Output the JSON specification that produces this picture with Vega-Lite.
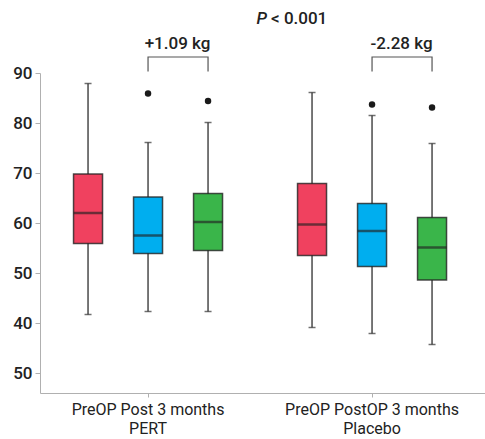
{
  "$schema": "https://vega.github.io/schema/vega-lite/v6.json",
  "autosize": "none",
  "width": 445,
  "height": 320,
  "padding": {"left": 40, "top": 73, "right": 0, "bottom": 46},
  "config": {
    "view": {"stroke": null},
    "font": "Roboto",
    "axis": {"grid": false, "domainColor": "#b0b0b0", "tickColor": "#b0b0b0", "labelColor": "#222", "labelFont": "Roboto", "titleFont": "Roboto"}
  },
  "datasets": {
    "boxes": [
      {"group": "PERT", "time": "PreOP", "lower": 41.7, "q1": 55.9, "median": 62.0, "q3": 69.8, "upper": 87.9, "outlier": null},
      {"group": "PERT", "time": "PostOP", "lower": 42.3, "q1": 53.9, "median": 57.5, "q3": 65.2, "upper": 76.1, "outlier": 85.9},
      {"group": "PERT", "time": "3 months", "lower": 42.3, "q1": 54.5, "median": 60.2, "q3": 65.9, "upper": 80.1, "outlier": 84.4},
      {"group": "Placebo", "time": "PreOP", "lower": 39.1, "q1": 53.5, "median": 59.7, "q3": 67.9, "upper": 86.1, "outlier": null},
      {"group": "Placebo", "time": "PostOP", "lower": 37.9, "q1": 51.3, "median": 58.4, "q3": 63.9, "upper": 81.5, "outlier": 83.7},
      {"group": "Placebo", "time": "3 months", "lower": 35.7, "q1": 48.6, "median": 55.1, "q3": 61.1, "upper": 75.9, "outlier": 83.1}
    ],
    "brackets": [
      {"group": "PERT", "time": "PostOP", "y": 90.3, "o": 1},
      {"group": "PERT", "time": "PostOP", "y": 93.2, "o": 2},
      {"group": "PERT", "time": "3 months", "y": 93.2, "o": 3},
      {"group": "PERT", "time": "3 months", "y": 90.3, "o": 4},
      {"group": "Placebo", "time": "PostOP", "y": 90.3, "o": 1},
      {"group": "Placebo", "time": "PostOP", "y": 93.2, "o": 2},
      {"group": "Placebo", "time": "3 months", "y": 93.2, "o": 3},
      {"group": "Placebo", "time": "3 months", "y": 90.3, "o": 4}
    ],
    "diffs": [
      {"group": "PERT", "label": "+1.09 kg", "y": 94.9},
      {"group": "Placebo", "label": "-2.28 kg", "y": 94.9}
    ],
    "ptext": [
      {"group": "PERT", "y": 99.8}
    ]
  },
  "encoding": {
    "x": {
      "field": "group", "type": "nominal",
      "scale": {"domain": ["PERT", "Placebo"], "paddingInner": 0.1964, "paddingOuter": 0.0915, "align": 0.44},
      "axis": {"title": null, "labelAngle": 0, "tickSize": 4, "labelPadding": 4, "labelFontSize": 16, "labelLineHeight": 19, "labelBaseline": "top",
        "labelExpr": "datum.value == 'PERT' ? ['PreOP Post 3 months', 'PERT'] : ['PreOP PostOP 3 months', 'Placebo']"}
    }
  },
  "layer": [
    {
      "data": {"name": "boxes"},
      "mark": {"type": "rule", "color": "#4a4a4a", "strokeWidth": 1.5},
      "encoding": {
        "xOffset": {"field": "time", "type": "nominal", "scale": {"domain": ["PreOP", "PostOP", "3 months"], "paddingInner": 0, "paddingOuter": 0}},
        "y": {"field": "lower", "type": "quantitative",
          "scale": {"domain": [26, 90], "nice": false, "zero": false},
          "axis": {"title": null, "values": [30, 40, 50, 60, 70, 80, 90], "tickSize": 5, "labelFontSize": 17, "labelFontWeight": 500, "labelPadding": 3,
            "labelExpr": "datum.value == 30 ? '50' : datum.label"}},
        "y2": {"field": "upper"}
      }
    },
    {
      "data": {"name": "boxes"},
      "mark": {"type": "tick", "color": "#333", "size": 7, "thickness": 1.5, "orient": "horizontal"},
      "encoding": {
        "xOffset": {"field": "time", "type": "nominal"},
        "y": {"field": "lower", "type": "quantitative"}
      }
    },
    {
      "data": {"name": "boxes"},
      "mark": {"type": "tick", "color": "#333", "size": 7, "thickness": 1.5, "orient": "horizontal"},
      "encoding": {
        "xOffset": {"field": "time", "type": "nominal"},
        "y": {"field": "upper", "type": "quantitative"}
      }
    },
    {
      "data": {"name": "boxes"},
      "mark": {"type": "bar", "size": 29, "stroke": "#222", "strokeWidth": 1.5, "strokeOpacity": 0.8, "opacity": 1},
      "encoding": {
        "xOffset": {"field": "time", "type": "nominal"},
        "y": {"field": "q1", "type": "quantitative"},
        "y2": {"field": "q3"},
        "color": {"field": "time", "type": "nominal", "legend": null,
          "scale": {"domain": ["PreOP", "PostOP", "3 months"], "range": ["#F0415F", "#00AEEF", "#3AB54A"]}}
      }
    },
    {
      "data": {"name": "boxes"},
      "mark": {"type": "tick", "color": "#222", "opacity": 0.65, "size": 29, "thickness": 2.5, "orient": "horizontal"},
      "encoding": {
        "xOffset": {"field": "time", "type": "nominal"},
        "y": {"field": "median", "type": "quantitative"}
      }
    },
    {
      "data": {"name": "boxes"},
      "transform": [{"filter": "datum.outlier != null"}],
      "mark": {"type": "point", "filled": true, "color": "#1a1a1a", "opacity": 1, "size": 42},
      "encoding": {
        "xOffset": {"field": "time", "type": "nominal"},
        "y": {"field": "outlier", "type": "quantitative"}
      }
    },
    {
      "data": {"name": "brackets"},
      "mark": {"type": "line", "color": "#555", "strokeWidth": 1.2, "clip": false},
      "encoding": {
        "xOffset": {"field": "time", "type": "nominal"},
        "y": {"field": "y", "type": "quantitative"},
        "detail": {"field": "group"},
        "order": {"field": "o"}
      }
    },
    {
      "data": {"name": "diffs"},
      "mark": {"type": "text", "dx": 29.5, "fontSize": 17, "fontWeight": 500, "color": "#222", "baseline": "alphabetic"},
      "encoding": {
        "y": {"field": "y", "type": "quantitative"},
        "text": {"field": "label"}
      }
    },
    {
      "data": {"name": "ptext"},
      "mark": {"type": "text", "dx": 119, "align": "right", "fontSize": 17, "fontWeight": 500, "fontStyle": "italic", "color": "#222", "baseline": "alphabetic", "text": "P"},
      "encoding": {
        "y": {"field": "y", "type": "quantitative"}
      }
    },
    {
      "data": {"name": "ptext"},
      "mark": {"type": "text", "dx": 123, "align": "left", "fontSize": 17, "fontWeight": 500, "color": "#222", "baseline": "alphabetic", "text": "< 0.001"},
      "encoding": {
        "y": {"field": "y", "type": "quantitative"}
      }
    }
  ]
}
